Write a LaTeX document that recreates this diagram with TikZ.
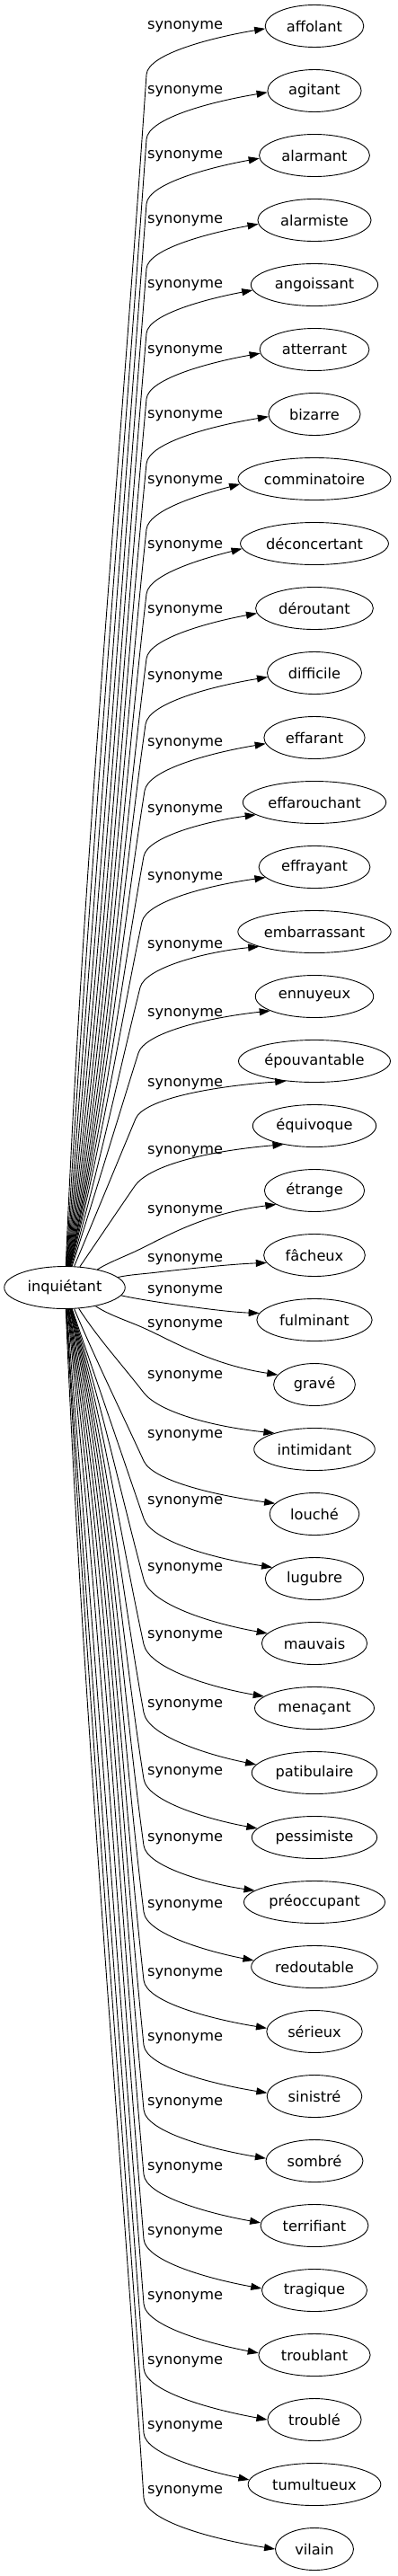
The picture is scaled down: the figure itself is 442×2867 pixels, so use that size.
\documentclass[tikz,border=0pt]{standalone}
\usepackage{fontspec}
\setmainfont{DejaVu Sans}
\usepackage{tikz}
\usetikzlibrary{arrows.meta,shapes.geometric}
\tikzset{
  % --- Graphe des synonymes --------------------------------------------------
  wordnode/.style={
    ellipse, draw, line width=0.9pt, inner xsep=0pt, inner ysep=2pt,
    minimum height=47pt
  },
  synlabel/.style={anchor=west, inner sep=0pt},
  synarrow/.style={-{Triangle[length=12pt,width=8pt]}, line width=0.9pt},
}
\begin{document}
\begin{tikzpicture}[x=1pt, y=-1pt]
  \fontsize{16.2}{19.4}\selectfont
  \useasboundingbox (0,0) rectangle (442,2867);
  \pgfmathsetmacro\rootw{1.207*width("inquiétant")+34.7}
  \node[wordnode, minimum width=\rootw pt] (inquietant) at (72,1433) {inquiétant};

  % nom/mot/label y/depart x/coude x/coude y/decalage pointe
  \foreach \name/\word/\ly/\sx/\bx/\by/\toff [count=\i from 0] in {
      affolant/affolant/30/1.0/163/83/2,
      agitant/agitant/102/1.4/163/155/1,
      alarmant/alarmant/174/1.8/163/227/2,
      alarmiste/alarmiste/246/2.2/163/299/3,
      angoissant/angoissant/318/2.6/163/371/4,
      atterrant/atterrant/391/3.0/163/444/3,
      bizarre/bizarre/463/3.4/163/516/2,
      comminatoire/comminatoire/536/3.8/163/589/3,
      deconcertant/déconcertant/608/4.2/163/661/3,
      deroutant/déroutant/680/4.6/163/733/4,
      difficile/difficile/754/5.0/162/806/4,
      effarant/effarant/828/5.4/161/880/6,
      effarouchant/effarouchant/902/5.8/160/953/10,
      effrayant/effrayant/977/6.2/158/1026/10,
      embarrassant/embarrassant/1053/6.8/156/1099/12,
      ennuyeux/ennuyeux/1129/7.6/154/1172/14,
      epouvantable/épouvantable/1207/10/151/1245/20,
      equivoque/équivoque/1282/16/150/1320/19,
      etrange/étrange/1348/35/150/1393/15,
      facheux/fâcheux/1402/58/175/1416/8,
      fulminant/fulminant/1437/61/175/1449/-6,
      grave/gravé/1475/33/160/1478/-12,
      intimidant/intimidant/1532/15/160/1550/-16,
      louche/louché/1598/10/160/1626/-12,
      lugubre/lugubre/1672/8/160/1690/-12,
      mauvais/mauvais/1746/7.5/160/1758/-10,
      menacant/menaçant/1821/7/160/1830/-11,
      patibulaire/patibulaire/1898/6.5/160/1906/-7,
      pessimiste/pessimiste/1973/6/160/1980/-8,
      preoccupant/préoccupant/2047/5.5/160/2054/-9,
      redoutable/redoutable/2121/5/160/2128/-5,
      serieux/sérieux/2197/4.5/160/2204/-3,
      sinistre/sinistré/2269/4/160/2276/-3,
      sombre/sombré/2341/3.5/160/2348/-2,
      terrifiant/terrifiant/2413/3/160/2420/-2,
      tragique/tragique/2485/2.5/160/2492/-1,
      troublant/troublant/2557/2/160/2564/-1,
      trouble/troublé/2629/1.6/160/2636/0,
      tumultueux/tumultueux/2701/1.3/160/2708/-3,
      vilain/vilain/2773/1/160/2780/0} {
    \pgfmathsetmacro\ty{29+72*\i}
    \pgfmathsetmacro\wordw{1.207*width("\word")+34.7}
    \node[wordnode, minimum width=\wordw pt] (\name) at (350,\ty) {\word};
    \node[synlabel] (\name-syn) at (164,\ly) {synonyme};
    % depart sur l'ellipse centrale, coude, puis arrivee
    \pgfmathsetmacro\sgn{\i<20 ? 1 : -1}
    \pgfmathsetmacro\hs{23.5*sqrt(1-(\sx/66.5)^2)}
    \pgfmathsetmacro\sang{atan2(\sgn*\hs,\sx)}
    \pgfmathsetmacro\sxx{72+\sx}
    \pgfmathsetmacro\syy{1433-\sgn*\hs}
    \pgfmathsetmacro\chx{\bx-\sxx}
    \pgfmathsetmacro\chy{\by-\syy}
    \pgfmathsetmacro\chl{100*veclen(\chx/100,\chy/100)}
    \pgfmathsetmacro\ux{\chx/\chl}
    \pgfmathsetmacro\uy{\chy/\chl}
    \pgfmathsetmacro\ey{\ty+\toff}
    \pgfmathsetmacro\reach{0.45*abs(\ey-\by)/max(abs(\uy),0.7)}
    \pgfmathsetmacro\eang{atan2(-\toff,-55*sqrt(1-(\toff/23.5)^2))}
    \draw[synarrow] (inquietant.\sang)
      .. controls ({\sxx+\chl/3*cos(\sang)},{\syy-\chl/3*sin(\sang)})
         and ({\bx-\chx/3},{\by-\chy/3}) .. (\bx,\by)
      .. controls ({\bx+\reach*\ux},{\by+\reach*\uy})
         and ({\bx+75},{\ey+(\by-\ey)/5}) .. (\name.\eang);
  }
\end{tikzpicture}
\end{document}
